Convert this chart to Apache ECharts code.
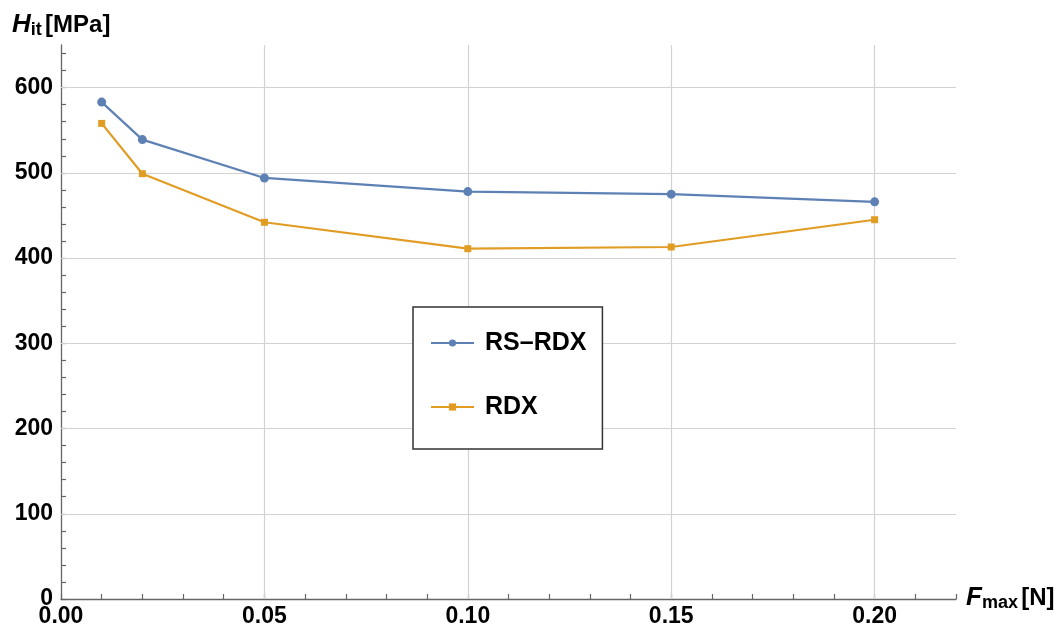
<!DOCTYPE html>
<html>
<head>
<meta charset="utf-8">
<script src="https://cdn.jsdelivr.net/npm/echarts@6/dist/echarts.min.js"></script>
<style>
  html, body { margin: 0; padding: 0; background: #ffffff; }
  #chart { width: 1064px; height: 630px; }
</style>
</head>
<body>
<div id="chart"></div>
<script>
// Indentation hardness vs. maximum load
const loads = [0.01, 0.02, 0.05, 0.10, 0.15, 0.20];            // F_max [N]
const rsRdx = [583, 539, 494, 478, 475, 466];                   // H_it [MPa]
const rdx   = [558, 499, 442, 411, 413, 445];                   // H_it [MPa]

const xTickValues  = [0, 0.01, 0.02, 0.03, 0.04, 0.05, 0.06, 0.07, 0.08, 0.09, 0.10,
                      0.11, 0.12, 0.13, 0.14, 0.15, 0.16, 0.17, 0.18, 0.19, 0.20, 0.21, 0.22];
const xLabelValues = [0, 0.05, 0.10, 0.15, 0.20];
const yTickValues  = [0, 20, 40, 60, 80, 100, 120, 140, 160, 180, 200, 220, 240, 260, 280, 300,
                      320, 340, 360, 380, 400, 420, 440, 460, 480, 500, 520, 540, 560, 580, 600, 620, 640];
const yLabelValues = [0, 100, 200, 300, 400, 500, 600];
const xGridValues  = [0.05, 0.10, 0.15, 0.20];
const yGridValues  = [100, 200, 300, 400, 500, 600];

const BLUE = '#5e81b5';
const ORANGE = '#e19c24';
const AXIS = '#666666';
const GRID = '#d2d2d2';
const FONT = '"Liberation Sans", Arial, sans-serif';

const chart = echarts.init(document.getElementById('chart'), null, { renderer: 'canvas' });

const gridLines = [
  ...xGridValues.map(v => ({ xAxis: v })),
  ...yGridValues.map(v => ({ yAxis: v }))
];

const titleRich = {
  h: { fontFamily: FONT, fontStyle: 'italic', fontWeight: 'bold', fontSize: 26, fill: '#000' },
  s: { fontFamily: FONT, fontWeight: 'bold', fontSize: 18, fill: '#000', padding: [10, 0, 0, 0] },
  u: { fontFamily: FONT, fontWeight: 'bold', fontSize: 24, fill: '#000' }
};

chart.setOption({
  animation: false,
  backgroundColor: '#ffffff',
  textStyle: { fontFamily: FONT },
  grid: { left: 61, right: 108, top: 45, bottom: 31, containLabel: false },
  xAxis: {
    type: 'value',
    min: 0, max: 0.22, interval: 0.01,
    axisLine: { show: true, onZero: false, lineStyle: { color: AXIS, width: 1.3 } },
    axisTick: { show: true, inside: true, length: 5, customValues: xTickValues,
                lineStyle: { color: AXIS, width: 1.2 } },
    axisLabel: {
      customValues: xLabelValues,
      color: '#000', fontFamily: FONT, fontWeight: 'bold', fontSize: 23, margin: 6,
      formatter: v => v.toFixed(2)
    },
    splitLine: { show: false }
  },
  yAxis: {
    type: 'value',
    min: 0, max: 650, interval: 20,
    axisLine: { show: true, onZero: false, lineStyle: { color: AXIS, width: 1.3 } },
    axisTick: { show: true, inside: true, length: 5, customValues: yTickValues,
                lineStyle: { color: AXIS, width: 1.2 } },
    axisLabel: {
      customValues: yLabelValues,
      color: '#000', fontFamily: FONT, fontWeight: 'bold', fontSize: 23, margin: 8,
      formatter: v => String(v)
    },
    splitLine: { show: false }
  },
  legend: {
    orient: 'vertical',
    left: 413, top: 307,
    z: 20,
    data: ['RS\u2013RDX', 'RDX'],
    backgroundColor: '#ffffff',
    borderColor: '#333333', borderWidth: 1.5,
    padding: [22, 16, 28, 17],
    itemWidth: 43, itemHeight: 9, itemGap: 36,
    textStyle: { color: '#000', fontFamily: FONT, fontWeight: 'bold', fontSize: 25,
                 lineHeight: 28, padding: [0, 0, 0, 6] }
  },
  graphic: [
    {
      type: 'text', left: 12, top: 12, silent: true,
      style: { text: '{h|H}{s|it} {u|[MPa]}', rich: titleRich }
    },
    {
      type: 'text', left: 966, top: 585, silent: true,
      style: { text: '{h|F}{s|max} {u|[N]}', rich: titleRich }
    }
  ],
  series: [
    {
      name: 'grid',
      type: 'line',
      data: [],
      silent: true,
      z: 1,
      markLine: {
        silent: true,
        z: 1,
        symbol: ['none', 'none'],
        label: { show: false },
        emphasis: { disabled: true },
        lineStyle: { color: GRID, width: 1.2, type: 'solid' },
        data: gridLines
      }
    },
    {
      name: 'RS\u2013RDX',
      type: 'line',
      data: loads.map((x, i) => [x, rsRdx[i]]),
      symbol: 'circle', symbolSize: 9,
      itemStyle: { color: BLUE },
      lineStyle: { color: BLUE, width: 2.2 },
      z: 3
    },
    {
      name: 'RDX',
      type: 'line',
      data: loads.map((x, i) => [x, rdx[i]]),
      symbol: 'rect', symbolSize: 7,
      itemStyle: { color: ORANGE },
      lineStyle: { color: ORANGE, width: 2.2 },
      z: 2
    }
  ]
});
</script>
</body>
</html>
